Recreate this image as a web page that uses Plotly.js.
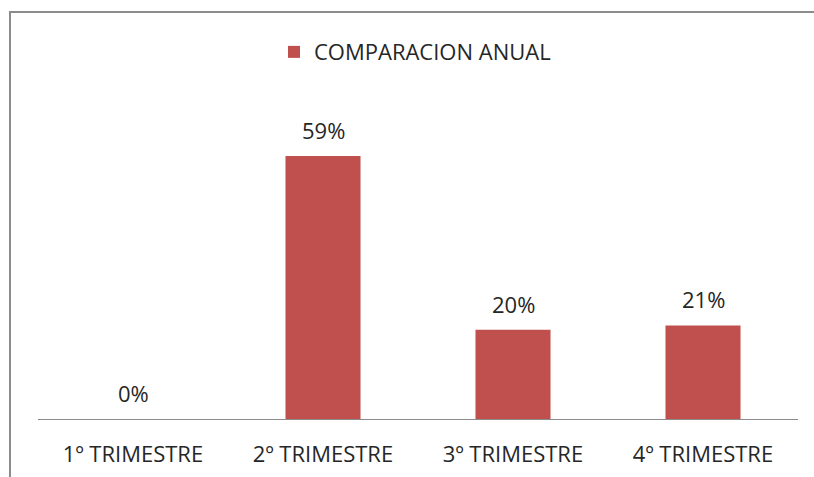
<!DOCTYPE html>
<html>
<head>
<meta charset="utf-8">
<script src="https://cdn.plot.ly/plotly-3.0.1.min.js"></script>
<style>
html,body{margin:0;padding:0;background:#fff;}
#wrap{position:relative;width:814px;height:477px;overflow:hidden;}
#chart{width:814px;height:477px;}
#frame{position:absolute;left:9px;top:11px;width:820px;height:480px;border-left:2px solid #8c8c8c;border-top:2px solid #8c8c8c;pointer-events:none;}
</style>
</head>
<body>
<div id="wrap"><div id="chart"></div><div id="frame"></div></div>
<script>
const categories = ["1º TRIMESTRE", "2º TRIMESTRE", "3º TRIMESTRE", "4º TRIMESTRE"];
const values = [0, 59, 20, 21];
const valueLabels = ["0%", "59%", "20%", "21%"];
const seriesName = "COMPARACION ANUAL";

const FONT = "Open Sans, Liberation Sans, sans-serif";
const TEXT = "#262626";
const FS = 22;

const trace = {
  type: "bar",
  x: categories,
  y: values,
  name: seriesName,
  marker: {color: "#C0504D", line: {color: "#C0504D", width: 0}},
  hoverinfo: "none"
};

const annotations = categories.map((c, i) => ({
  x: c, y: values[i], xref: "x", yref: "y",
  text: valueLabels[i], showarrow: false,
  yanchor: "middle", yshift: 26,
  font: {family: FONT, size: FS, color: TEXT}
}));

const layout = {
  width: 814, height: 477,
  margin: {l: 38, r: 16, t: 107, b: 58},
  paper_bgcolor: "#fff", plot_bgcolor: "#fff",
  showlegend: true,
  legend: {orientation: "h", x: 0.3105, xanchor: "left", y: 1.176, yanchor: "middle",
           font: {family: FONT, size: FS, color: TEXT}, itemwidth: 30},
  bargap: 0.605,
  xaxis: {
    showgrid: false, zeroline: false, showline: true, linecolor: "#8c8c8c", linewidth: 1,
    ticks: "outside", ticklen: 16, tickcolor: "rgba(0,0,0,0)",
    tickfont: {family: FONT, size: FS, color: TEXT}
  },
  yaxis: {
    range: [0, 70], visible: false, showgrid: false, zeroline: false, fixedrange: true
  },
  annotations: annotations
};

Plotly.newPlot("chart", [trace], layout, {displayModeBar: false, staticPlot: true});
</script>
</body>
</html>
